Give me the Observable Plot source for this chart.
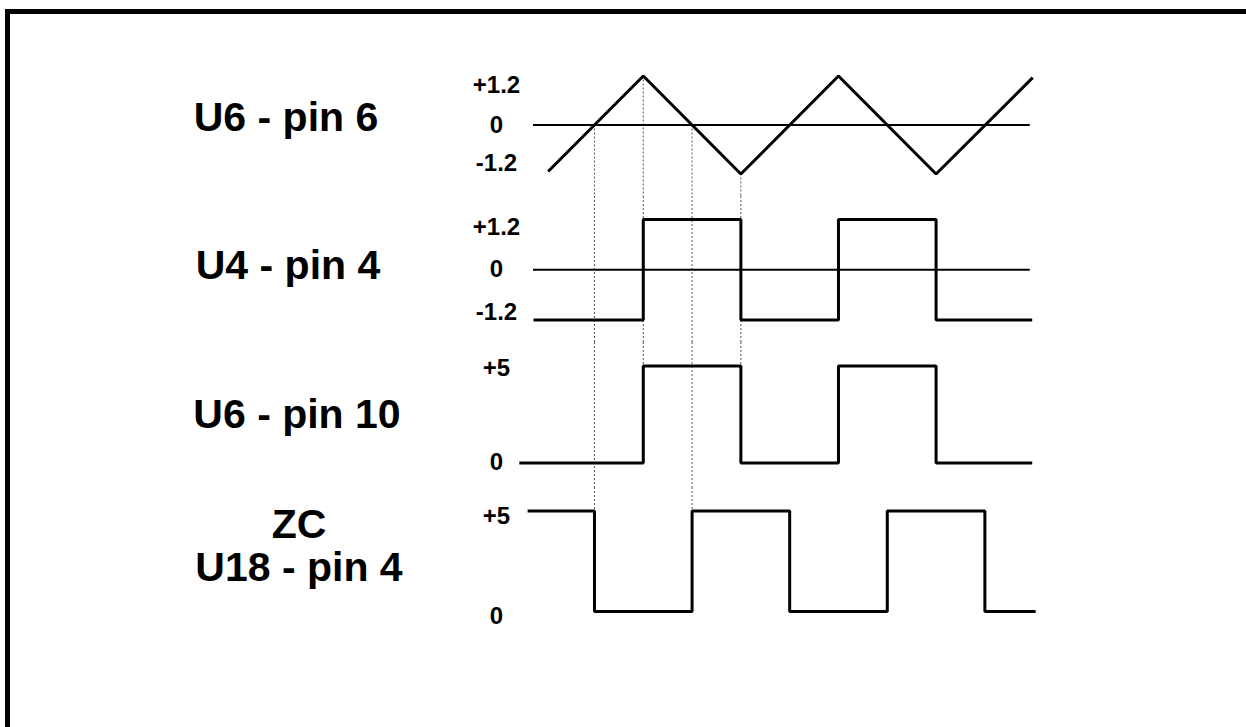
<!DOCTYPE html>
<html>
<head>
<meta charset="utf-8">
<script src="https://cdn.jsdelivr.net/npm/d3@7"></script>
<script src="https://cdn.jsdelivr.net/npm/@observablehq/plot@0.6"></script>
<style>
  body { margin: 0; background: #fff; }
  #wrap { position: relative; width: 1246px; height: 727px; overflow: hidden; background: #fff;
          font-family: "Liberation Sans", Arial, sans-serif; }
  .lbl { position: absolute; width: 400px; text-align: center; font-weight: bold; font-size: 41px;
         line-height: 1; white-space: pre; color: #000; }
  .bar { position: absolute; background: #000; }
</style>
</head>
<body>
<div id="wrap"></div>
<script>
// ---------------- data ----------------
const signalLabels = ["U6 - pin 6", "U4 - pin 4", "U6 - pin 10", "ZC\nU18 - pin 4"];

// U6 - pin 6 : triangle wave vertices (time units, volts)
const triTimes  = [-0.95, 1, 3, 5, 7, 8.98];
const triValues = [-1.14, 1.2, -1.2, 1.2, -1.2, 1.16];

// U4 - pin 4 : square wave transitions (step-after)
const u4Times  = [-1.25, 1, 3, 5, 7, 8.97];
const u4Values = [-1.2, 1.2, -1.2, 1.2, -1.2, -1.2];

// U6 - pin 10 : logic output transitions
const pin10Times  = [-1.54, 1, 3, 5, 7, 8.97];
const pin10Values = [0, 5, 0, 5, 0, 0];

// ZC / U18 - pin 4 : zero-crossing output transitions
const zcTimes  = [-1.37, 0, 2, 4, 6, 8, 9.04];
const zcValues = [5, 0, 5, 0, 5, 0, 0];

// zero reference line extent for the ±1.2 traces
const zeroLineStart = -1.25;
const zeroLineEnd = 8.93;

// tick labels
const ticksPM = [1.2, 0, -1.2];
const ticks5 = [5, 0];

// dotted timing guides
const markerTimes = [0, 1, 2, 3];
const markerStartLevel = [0, 1.2, 0, -1.2];            // level on U6 - pin 6 where each guide starts
const markerEndTrace = ["ZC", "pin10", "ZC", "pin10"]; // trace where each guide stops
const markerEndLevel = [5, 5, 5, 5];

// ---------------- build ----------------
const tri = triTimes.map((t, i) => ({t, v: triValues[i]}));
const u4 = u4Times.map((t, i) => ({t, v: u4Values[i]}));
const pin10 = pin10Times.map((t, i) => ({t, v: pin10Values[i]}));
const zc = zcTimes.map((t, i) => ({t, v: zcValues[i]}));
const markers = markerTimes.map((t, i) => ({t, start: markerStartLevel[i], end: markerEndTrace[i], endLevel: markerEndLevel[i]}));

const fmt = v => v > 0 ? "+" + v : String(v);
const guide = {stroke: "#555", strokeWidth: 1, strokeDasharray: "2,2"};
const wave = {x: "t", y: "v", stroke: "#000", strokeWidth: 3, strokeLinejoin: "miter", strokeLinecap: "butt"};
const axisStyle = {anchor: "left", tickSize: 0, tickPadding: 20, textAnchor: "middle",
                   fontSize: 24, fontWeight: "bold", tickFormat: fmt, label: null};

function axes(ticks, dyPos, dyZero, dyNeg) {
  return [
    Plot.axisY(ticks.filter(v => v > 0), {...axisStyle, dy: dyPos}),
    Plot.axisY(ticks.filter(v => v === 0), {...axisStyle, dy: dyZero}),
    Plot.axisY(ticks.filter(v => v < 0), {...axisStyle, dy: dyNeg})
  ];
}

// band edges expressed in each trace's own units (for guides that run to the band edge)
function edges(yDomain, yRange, height) {
  const s = d3.scaleLinear().domain(yDomain).range(yRange);
  return {top: s.invert(0), bottom: s.invert(height)};
}

function chart(top, height, yDomain, yRange, makeMarks) {
  const e = edges(yDomain, yRange, height);
  return Plot.plot({
    width: 1246,
    height,
    marginLeft: 516,
    marginRight: 193,
    marginTop: 0,
    marginBottom: 0,
    x: {domain: [-1.6, 9.4], range: [515.9, 1052.7], axis: null},
    y: {domain: yDomain, range: yRange},
    style: {position: "absolute", left: "0px", top: top + "px", background: "transparent",
            fontFamily: "'Liberation Sans', Arial, sans-serif", color: "#000", overflow: "visible"},
    marks: makeMarks(e)
  });
}

const wrap = document.getElementById("wrap");

// Trace 1: U6 - pin 6
wrap.appendChild(chart(14, 182, [-1.2, 1.2], [159.5, 61.5], e => [
  Plot.ruleX(markers, {x: "t", y1: "start", y2: () => e.bottom, ...guide}),
  Plot.ruleY([0], {x1: zeroLineStart, x2: zeroLineEnd, stroke: "#000", strokeWidth: 2}),
  Plot.line(tri, wave),
  ...axes(ticksPM, 9, 0, -11)
]));

// Trace 2: U4 - pin 4
wrap.appendChild(chart(196, 146, [-1.2, 1.2], [123.5, 23], e => [
  Plot.ruleX(markers, {x: "t", y1: () => e.top, y2: () => e.bottom, ...guide}),
  Plot.ruleY([0], {x1: zeroLineStart, x2: zeroLineEnd, stroke: "#000", strokeWidth: 2}),
  Plot.line(u4, {...wave, curve: "step-after"}),
  ...axes(ticksPM, 8, 0, -8)
]));

// Trace 3: U6 - pin 10
wrap.appendChild(chart(342, 145, [0, 5], [120.5, 23.5], e => [
  Plot.ruleX(markers.filter(m => m.end === "ZC"), {x: "t", y1: () => e.top, y2: () => e.bottom, ...guide}),
  Plot.ruleX(markers.filter(m => m.end === "pin10"), {x: "t", y1: () => e.top, y2: "endLevel", ...guide}),
  Plot.line(pin10, {...wave, curve: "step-after"}),
  ...axes(ticks5, 2, -1, 0)
]));

// Trace 4: ZC / U18 - pin 4
wrap.appendChild(chart(487, 240, [0, 5], [124, 23.5], e => [
  Plot.ruleX(markers.filter(m => m.end === "ZC"), {x: "t", y1: () => e.top, y2: "endLevel", ...guide}),
  Plot.line(zc, {...wave, curve: "step-after"}),
  ...axes(ticks5, 5, 5, 0)
]));

// signal name labels
const labelPos = [[286, 97], [288, 245], [297, 394], [299, 504]];
signalLabels.forEach((s, i) => {
  const d = document.createElement("div");
  d.className = "lbl";
  d.textContent = s;
  if (s.includes("\n")) d.style.lineHeight = "43px";
  d.style.left = (labelPos[i][0] - 200) + "px";
  d.style.top = (labelPos[i][1] - (s.includes("\n") ? 1 : 0)) + "px";
  wrap.appendChild(d);
});

// frame lines (top and left)
[[5, 9, 1241, 5], [5, 9, 5, 718]].forEach(([l, t, w, h]) => {
  const b = document.createElement("div");
  b.className = "bar";
  Object.assign(b.style, {left: l + "px", top: t + "px", width: w + "px", height: h + "px"});
  wrap.appendChild(b);
});
</script>
</body>
</html>
